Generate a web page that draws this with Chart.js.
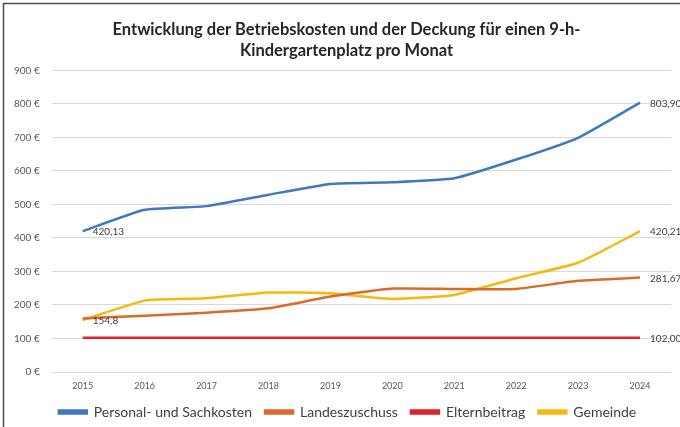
<!DOCTYPE html>
<html>
<head>
<meta charset="utf-8">
<script src="https://cdn.jsdelivr.net/npm/chart.js@4.4.0/dist/chart.umd.min.js"></script>
<style>
  html, body { margin: 0; padding: 0; background: #fff; }
  #wrap { width: 680px; height: 427px; position: relative; }
</style>
</head>
<body>
<div id="wrap"><canvas id="grafico"></canvas></div>
<script>
// Daten
const jahre = ["2015", "2016", "2017", "2018", "2019", "2020", "2021", "2022", "2023", "2024"];
const personalSachkosten = [420.13, 484, 495, 529, 561, 566, 578, 634, 699, 803.90];
const landeszuschuss = [160, 168, 177, 190, 225, 249, 248, 248, 272, 281.67];
const elternbeitrag = [102, 102, 102, 102, 102, 102, 102, 102, 102, 102];
const gemeinde = [154.8, 213, 220, 237, 235, 218, 230, 280, 326, 420.21];
const yTicks = [0, 100, 200, 300, 400, 500, 600, 700, 800, 900];

// welche Punkte beschriftet werden: [Index, Nachkommastellen]
const labelPunkte = [
    [[0, 2], [9, 2]],
    [[9, 2]],
    [[9, 2]],
    [[0, 1], [9, 2]]
];

const schrift = "Lato, 'Open Sans', sans-serif";

function formatWert(v, stellen) {
    return v.toFixed(stellen).replace(".", ",");
}

// Rahmen links/oben wie im Original (Ausschnitt)
const rahmenPlugin = {
    id: "rahmen",
    beforeDraw(chart) {
        const ctx = chart.ctx;
        ctx.save();
        ctx.fillStyle = "#ffffff";
        ctx.fillRect(0, 0, chart.width, chart.height);
        ctx.strokeStyle = "#4a4a4a";
        ctx.lineWidth = 1.5;
        ctx.beginPath();
        ctx.moveTo(3.5, chart.height);
        ctx.lineTo(3.5, 3.5);
        ctx.lineTo(chart.width, 3.5);
        ctx.stroke();
        ctx.restore();
    }
};

// Titel und Legende etwas nach rechts (Original ist rechts beschnitten)
const versatzPlugin = {
    id: "versatz",
    afterLayout(chart) {
        if (chart.titleBlock) {
            chart.titleBlock.left += 10;
            chart.titleBlock.right += 10;
        }
        if (chart.legend) {
            chart.legend.left += 11;
            chart.legend.right += 11;
        }
    }
};

// Datenbeschriftungen rechts neben den Punkten
const beschriftungPlugin = {
    id: "beschriftung",
    afterDatasetsDraw(chart) {
        const ctx = chart.ctx;
        ctx.save();
        ctx.font = "10px " + schrift;
        ctx.fillStyle = "#404040";
        ctx.textAlign = "left";
        ctx.textBaseline = "middle";
        chart.data.datasets.forEach((ds, i) => {
            const meta = chart.getDatasetMeta(i);
            labelPunkte[i].forEach(([idx, stellen]) => {
                const p = meta.data[idx];
                ctx.fillText(formatWert(ds.data[idx], stellen), p.x + 10, p.y + 1);
            });
        });
        ctx.restore();
    }
};

function linie(label, data, farbe) {
    return {
        label: label,
        data: data,
        borderColor: farbe,
        backgroundColor: farbe,
        borderWidth: 2.5,
        pointRadius: 0,
        tension: 0.15,
        fill: false
    };
}

new Chart(document.getElementById("grafico"), {
    type: "line",
    data: {
        labels: jahre,
        datasets: [
            linie("Personal- und Sachkosten", personalSachkosten, "#3f78c0"),
            linie("Landeszuschuss", landeszuschuss, "#dc6a2a"),
            linie("Elternbeitrag", elternbeitrag, "#e2222b"),
            linie("Gemeinde", gemeinde, "#f6b80e")
        ]
    },
    options: {
        responsive: true,
        maintainAspectRatio: false,
        animation: false,
        layout: { padding: { top: 0, left: 2, right: 9, bottom: -2 } },
        plugins: {
            title: {
                display: true,
                text: ["Entwicklung der Betriebskosten und der Deckung für einen 9-h-", "Kindergartenplatz pro Monat"],
                color: "#262626",
                font: { family: schrift, size: 16.5, weight: "bold", lineHeight: 1.27 },
                padding: { top: 19.5, bottom: 9 }
            },
            legend: {
                position: "bottom",
                labels: {
                    color: "#404040",
                    font: { family: schrift, size: 14 },
                    boxWidth: 28,
                    boxHeight: 3,
                    padding: 13
                }
            },
            tooltip: { enabled: false }
        },
        scales: {
            x: {
                offset: true,
                grid: { display: false, drawTicks: false },
                border: { display: false },
                ticks: { color: "#595959", font: { family: schrift, size: 9 }, padding: 9 },
                afterFit(axis) {
                    axis.height = 20;
                }
            },
            y: {
                min: 0,
                max: 900,
                afterBuildTicks(axis) {
                    axis.ticks = yTicks.map(v => ({ value: v }));
                },
                grid: { color: "#d9d9d9", lineWidth: 1, drawTicks: false },
                border: { display: false },
                ticks: {
                    color: "#595959",
                    font: { family: schrift, size: 10 },
                    padding: 12,
                    callback: v => v + " €"
                }
            }
        }
    },
    plugins: [rahmenPlugin, versatzPlugin, beschriftungPlugin]
});
</script>
</body>
</html>
